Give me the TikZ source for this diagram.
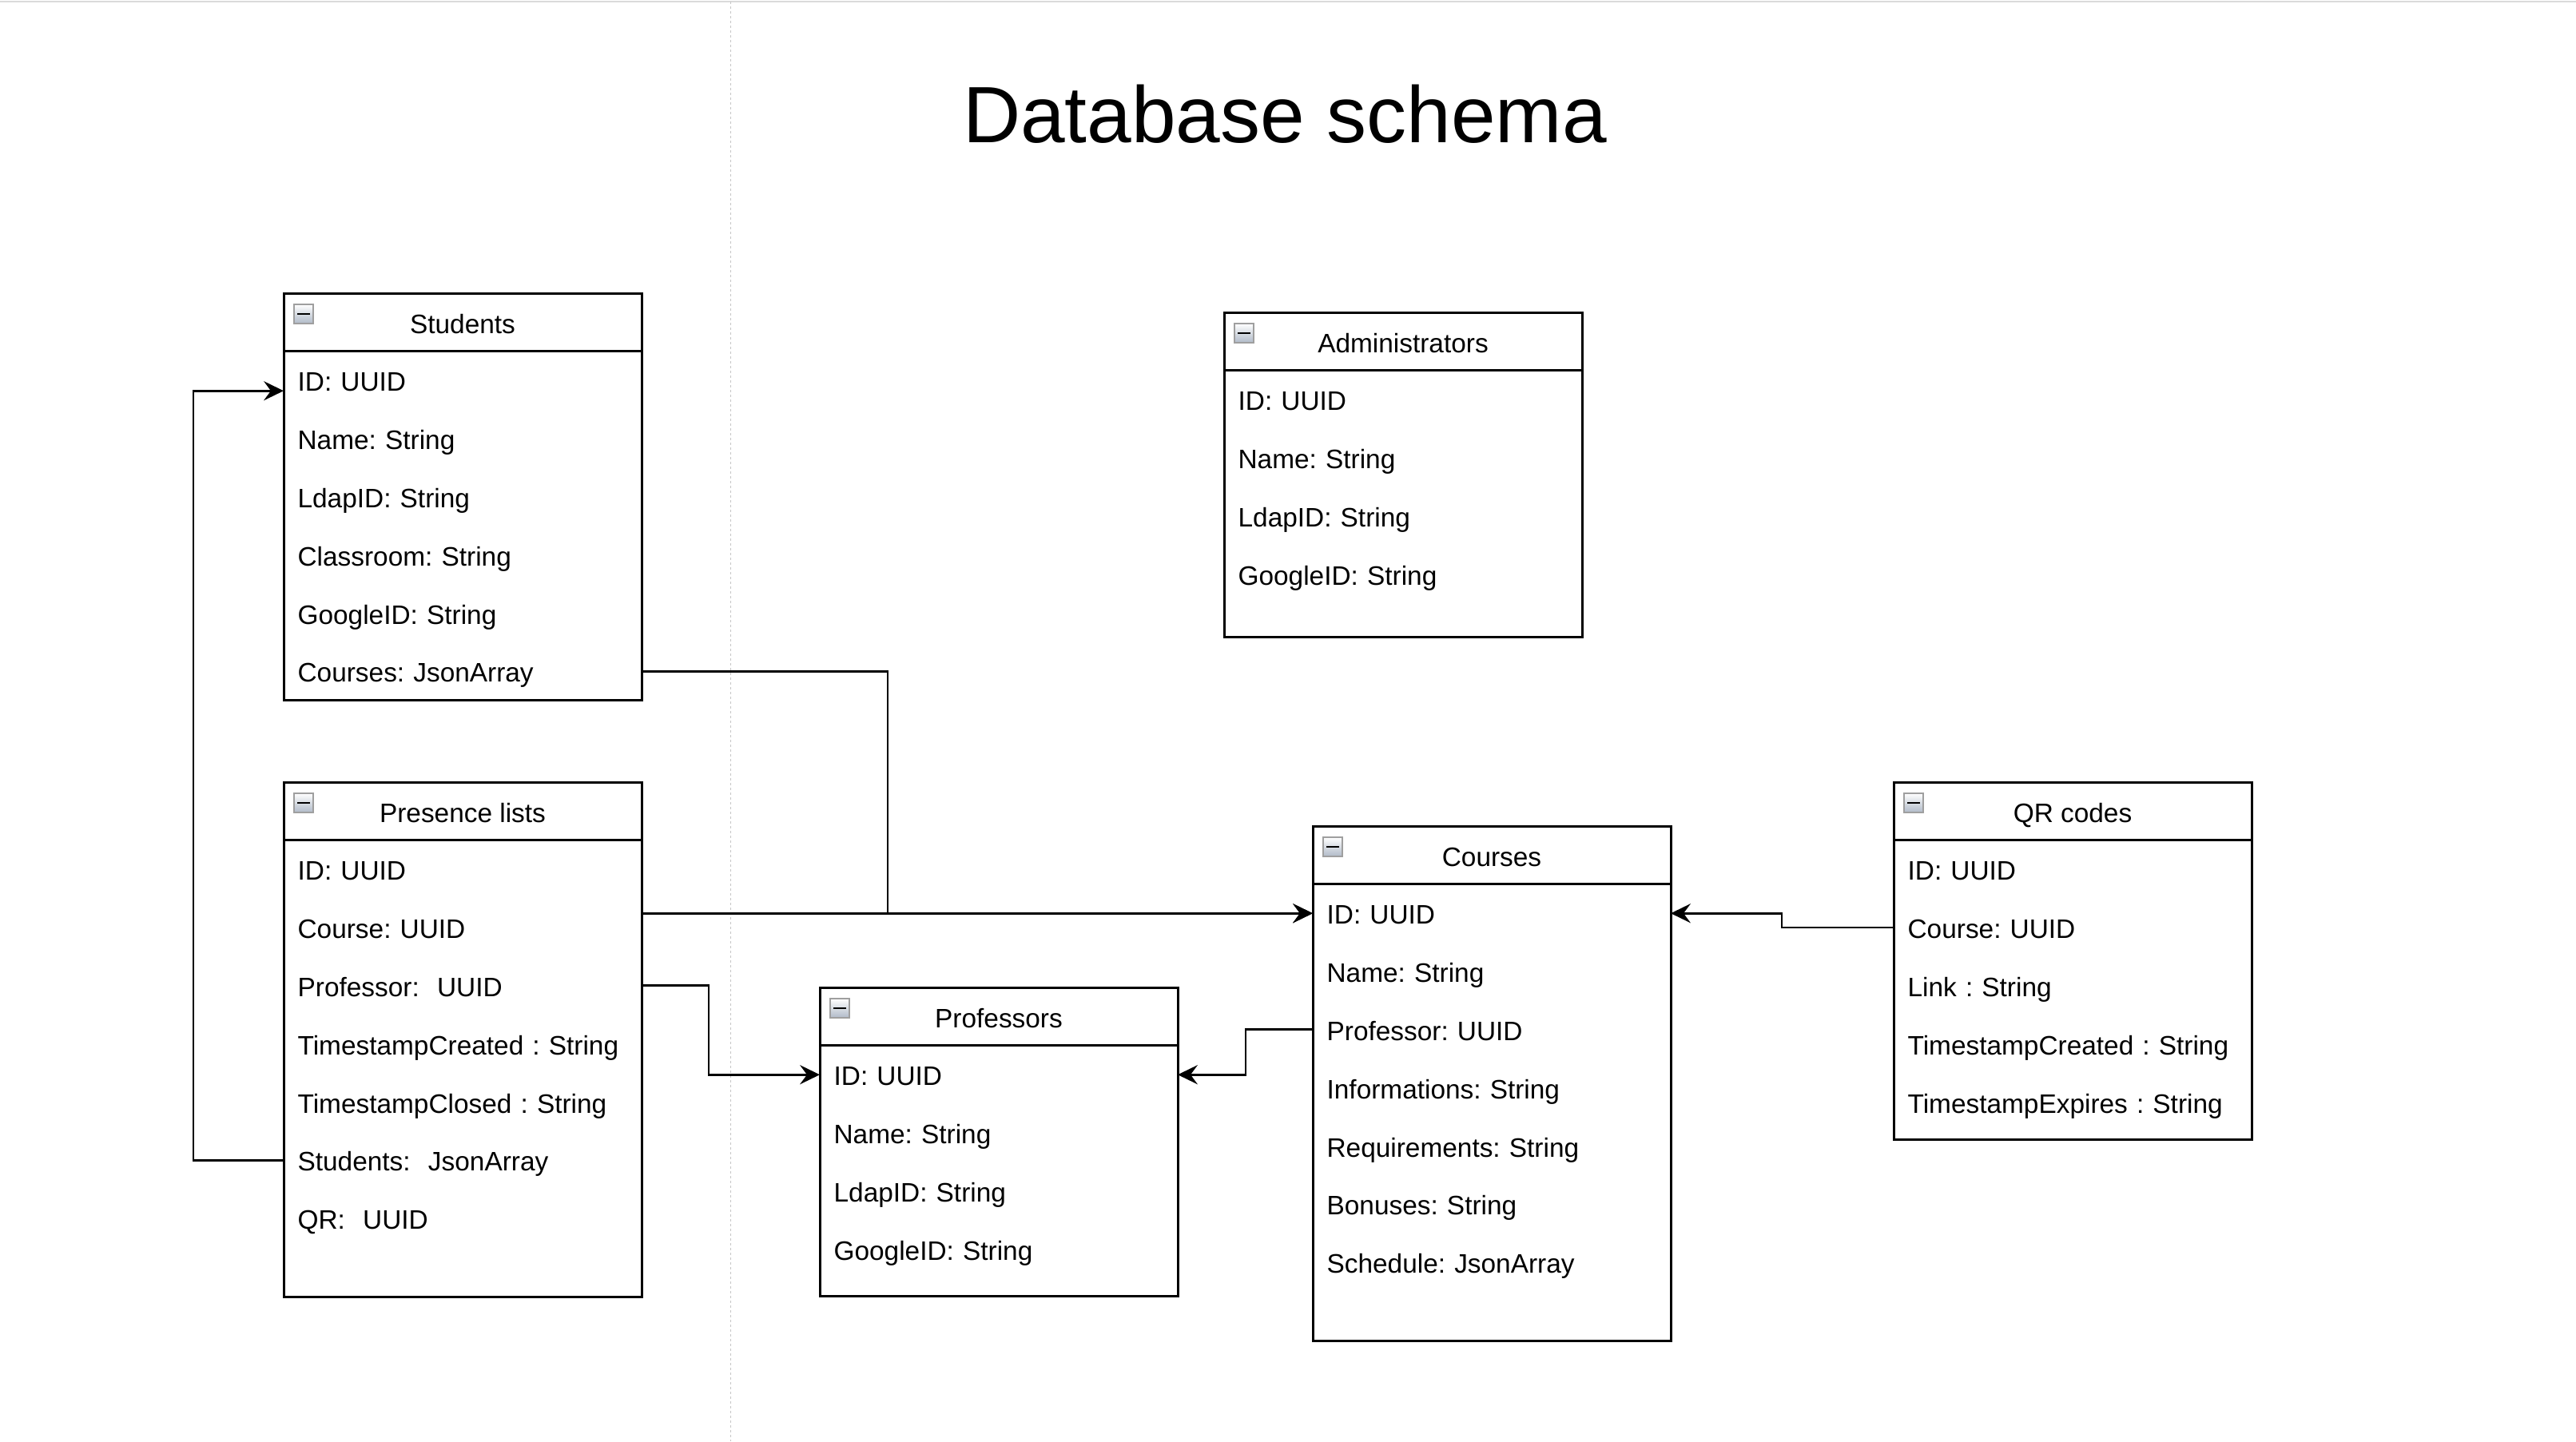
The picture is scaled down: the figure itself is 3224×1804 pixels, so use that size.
\documentclass[tikz,border=0pt]{standalone}
\usepackage{fontspec}
\setmainfont{Liberation Sans}
\usetikzlibrary{positioning, calc, arrows.meta}

\definecolor{iconfill}{RGB}{176,186,200}
\definecolor{pageline}{RGB}{218,218,218}

\tikzset{
	tablehead/.style={draw, line width=0.75pt, anchor=north west, outer sep=0pt, minimum width=112pt, minimum height=18.2pt, inner sep=0pt, text height=6.8pt, text depth=0pt, font=\fontsize{8.35}{10}\selectfont},
	tablerow/.style={anchor=north west, outer sep=0pt, minimum height=18.2pt, inner xsep=4.4pt, inner ysep=0pt, text width=103.2pt, align=left, text height=6.8pt, text depth=0pt, font=\fontsize{8.35}{10}\selectfont},
	tablebody/.style={draw, line width=0.75pt},
	fk/.style={line width=0.7pt, -{Stealth[length=6.2pt, width=6pt, inset=2.2pt]}},
	collapsebox/.style={draw=gray!75, line width=0.3pt, top color=white, bottom color=iconfill},
}

\newcommand{\collapsemark}[1]{%
	\draw[collapsebox] ($(#1.north west)+(13,14)$) rectangle ++(24,24);
	\draw[line width=0.7pt] ($(#1.north west)+(17,26)$) -- ++(16,0);
}

\frenchspacing

\begin{document}
\begin{tikzpicture}[x=0.25pt, y=-0.25pt]
	\path[fill=white, use as bounding box] (0,0) rectangle (3224,1804);
	\draw[pageline, line width=0.5pt] (0,2) -- (3224,2);
	\draw[gray!45, line width=0.25pt, dash pattern=on 0.75pt off 0.75pt] (914,2) -- (914,1804);
	
	\node[anchor=base, font=\fontsize{25}{30}\selectfont] (title) at (1608,178) {Database schema};
	
	% Students
	\node[tablehead] (stu) at (355,367) {Students};
	\foreach \txt [count=\i] in {ID: UUID, Name: String, LdapID: String, Classroom: String, GoogleID: String, Courses: JsonArray}
		\node[tablerow] (stu-\i) at ($(stu.south west)+(0,{72.8*(\i-1)})$) {\txt};
	\draw[tablebody] (stu.south west) rectangle (stu-6.south east);
	\collapsemark{stu}
	
	% Administrators
	\node[tablehead] (adm) at (1532,391) {Administrators};
	\foreach \txt [count=\i] in {ID: UUID, Name: String, LdapID: String, GoogleID: String}
		\node[tablerow] (adm-\i) at ($(adm.south west)+(0,{72.8*(\i-1)})$) {\txt};
	\draw[tablebody] (adm.south west) rectangle ($(adm-4.south east)+(0,42)$);
	\collapsemark{adm}
	
	% Presence lists
	\node[tablehead] (pre) at (355,979) {Presence lists};
	\foreach \txt [count=\i] in {ID: UUID, Course: UUID, Professor:\ \ UUID, TimestampCreated : String, TimestampClosed : String, Students:\ \ JsonArray, QR:\ \ UUID}
		\node[tablerow] (pre-\i) at ($(pre.south west)+(0,{72.8*(\i-1)})$) {\txt};
	\draw[tablebody] (pre.south west) rectangle ($(pre-7.south east)+(0,62)$);
	\collapsemark{pre}
	
	% Professors
	\node[tablehead] (prf) at (1026,1236) {Professors};
	\foreach \txt [count=\i] in {ID: UUID, Name: String, LdapID: String, GoogleID: String}
		\node[tablerow] (prf-\i) at ($(prf.south west)+(0,{72.8*(\i-1)})$) {\txt};
	\draw[tablebody] (prf.south west) rectangle ($(prf-4.south east)+(0,22)$);
	\collapsemark{prf}
	
	% Courses
	\node[tablehead] (crs) at (1643,1034) {Courses};
	\foreach \txt [count=\i] in {ID: UUID, Name: String, Professor: UUID, Informations: String, Requirements: String, Bonuses: String, Schedule: JsonArray}
		\node[tablerow] (crs-\i) at ($(crs.south west)+(0,{72.8*(\i-1)})$) {\txt};
	\draw[tablebody] (crs.south west) rectangle ($(crs-7.south east)+(0,62)$);
	\collapsemark{crs}
	
	% QR codes
	\node[tablehead] (qr) at (2370,979) {QR codes};
	\foreach \txt [count=\i] in {ID: UUID, Course: UUID, Link : String, TimestampCreated : String, TimestampExpires : String}
		\node[tablerow] (qr-\i) at ($(qr.south west)+(0,{72.8*(\i-1)})$) {\txt};
	\draw[tablebody] (qr.south west) rectangle ($(qr-5.south east)+(0,11)$);
	\collapsemark{qr}
	
	% links
	\coordinate (bendA) at (1111,0);
	\coordinate (bendB) at (887,0);
	\coordinate (bendC) at (1559,0);
	\coordinate (bendD) at (2230,0);
	\coordinate (bendE) at (242,0);
	\coordinate (stuin) at ($(stu-1.west)+(0,13)$);
	
	\draw[fk] (stu-6.east) -| (bendA |- crs-1.west) -- (crs-1.west);
	\draw[fk] (pre-2.east |- crs-1.west) -- (crs-1.west);
	\draw[fk] (pre-3.east) -| (bendB |- prf-1.west) -- (prf-1.west);
	\draw[fk] (crs-3.west) -| (bendC |- prf-1.east) -- (prf-1.east);
	\draw[fk] (qr-2.west) -| (bendD |- crs-1.east) -- (crs-1.east);
	\draw[fk] (pre-6.west) -| (bendE |- stuin) -- (stuin);
\end{tikzpicture}
\end{document}
